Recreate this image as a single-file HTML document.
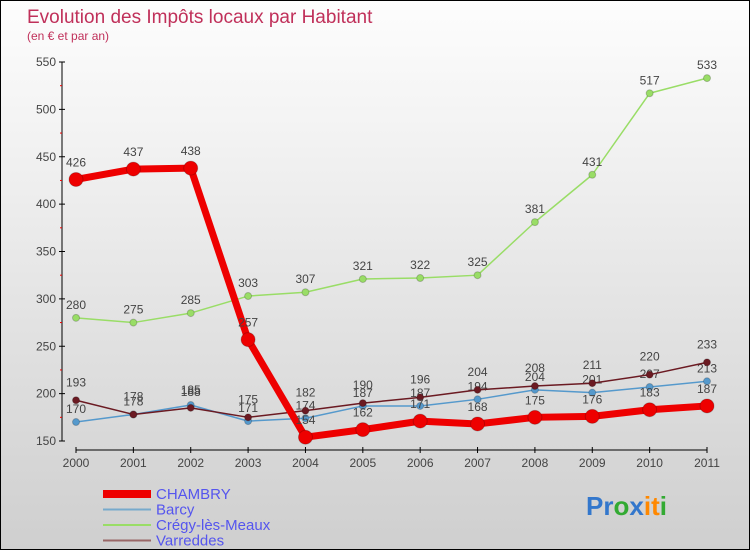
<!DOCTYPE html>
<html><head><meta charset="utf-8"><style>
body{margin:0}
#c{width:750px;height:550px;position:relative;box-sizing:border-box;border:1px solid #000;background:linear-gradient(#fdfdfd,#f0f0f0 30%,#d8d8d8 80%,#cfcfcf);font-family:"Liberation Sans",sans-serif;overflow:hidden}
</style></head><body>
<div id="c">
<svg id="s" width="750" height="550" style="position:absolute;left:0;top:0"></svg>
</div>
<script>
const years=[2000,2001,2002,2003,2004,2005,2006,2007,2008,2009,2010,2011];
const chambry=[426,437,438,257,154,162,171,168,175,176,183,187];
const barcy=[170,178,188,171,174,187,187,194,204,201,207,213];
const cregy=[280,275,285,303,307,321,322,325,381,431,517,533];
const varreddes=[193,178,185,175,182,190,196,204,208,211,220,233];
const yTicks=[150,200,250,300,350,400,450,500,550];
const names=["CHAMBRY","Barcy","Crégy-lès-Meaux","Varreddes"];
const NS="http://www.w3.org/2000/svg";
const s=document.getElementById('s');
const X=i=>75+i*(706-75)/11;
const Y=v=>440-(v-150)*(440-61)/400;
function el(t,a,p){const e=document.createElementNS(NS,t);for(const k in a)e.setAttribute(k,a[k]);(p||s).appendChild(e);return e;}
function tx(x,y,str,o){const e=el('text',Object.assign({x:x,y:y,'font-size':12,fill:'#444','text-anchor':'middle'},o||{}));e.textContent=str;return e;}
let t=tx(26,22,"Evolution des Impôts locaux par Habitant",{'text-anchor':'start','font-size':19,fill:'#c0305a'});

t=tx(26,39,"(en € et par an)",{'text-anchor':'start','font-size':12,fill:'#c0305a'});

// axes
let a=el('line',{x1:61,y1:61,x2:61,y2:440,stroke:'#000'});
a=el('line',{x1:75,y1:449,x2:706,y2:449,stroke:'#000'});
yTicks.forEach((v,i)=>{el('line',{x1:58,y1:Y(v),x2:64,y2:Y(v),stroke:'#000'});
 const l=tx(55,Y(v)+4,v,{'text-anchor':'end'});
 if(i<yTicks.length-1)el('line',{x1:59,y1:Y(v+25),x2:61,y2:Y(v+25),stroke:'#e00'});});
years.forEach((yr,i)=>{el('line',{x1:X(i),y1:446,x2:X(i),y2:452,stroke:'#000'});
 const l=tx(X(i),466,yr);});
function series(d,col,w,r,nm,lbl,dy){
 const g=el('g',{});
 el('polyline',{points:d.map((v,i)=>X(i)+','+Y(v)).join(' '),fill:'none',stroke:col,'stroke-width':w,'stroke-linejoin':'round'},g);
 d.forEach((v,i)=>{const c=el('circle',{cx:X(i),cy:Y(v),r:r,fill:col,stroke:'rgba(0,0,0,0.2)'},g);
  tx(X(i),Y(v)+dy,v,{});});
}
series(cregy,'#99dd66',1.5,3.5,'cregy','',-9);
series(barcy,'#5599cc',1.5,3.5,'barcy','',-9);
series(varreddes,'#6b1a22',1.5,3.5,'varreddes','',-14);
series(chambry,'#ee0000',7,7,'chambry','',-13);
// legend
const lc=['#ee0000','#77aacc','#99dd66','#996666'],lw=[8,2,2,2];
names.forEach((n,i)=>{const y=493+i*15.5;const g=el('g',{});
 el('line',{x1:102,y1:y,x2:150,y2:y,stroke:lc[i],'stroke-width':lw[i]},g);
 const l=tx(155,y+5,n,{'text-anchor':'start','font-size':15,fill:'#5555ee'});g.appendChild(l);});
// logo
const lg=el('text',{x:585,y:514,'font-size':26,'font-weight':'bold'});
[['P','#3377cc'],['r','#3377cc'],['o','#33aa33'],['x','#3377cc'],['i','#ff8800'],['t','#ff8800'],['i','#33aa33']].forEach(([c,f])=>{const ts=el('tspan',{fill:f},lg);ts.textContent=c;});
</script>
</body></html>
